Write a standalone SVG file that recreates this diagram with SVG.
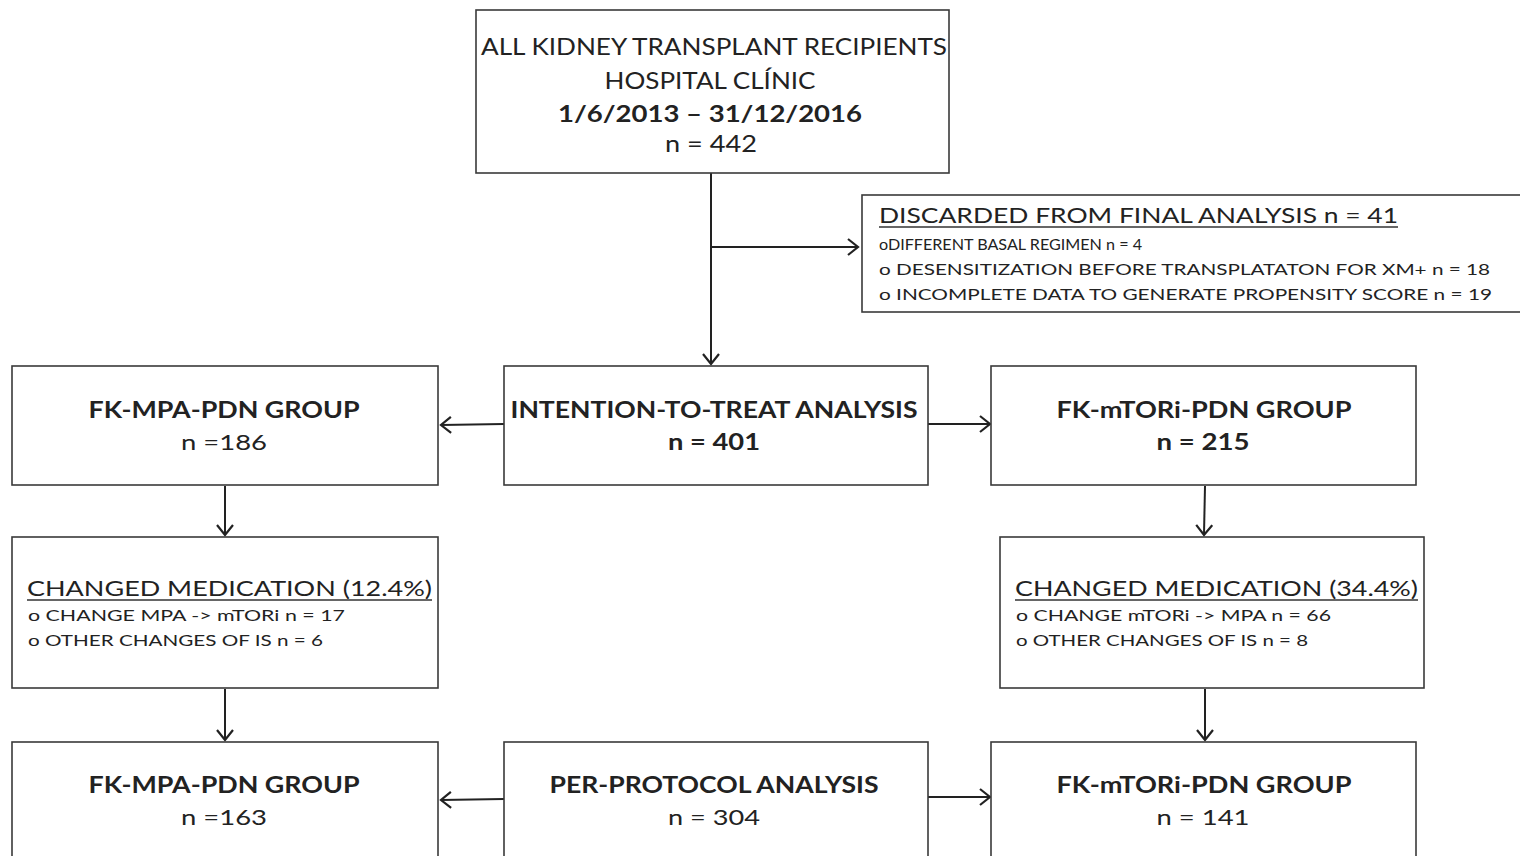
<svg xmlns="http://www.w3.org/2000/svg" width="1520" height="856" viewBox="0 0 1520 856">
<defs>
<style>
.box{fill:#fff;stroke:#3a3a3a;stroke-width:1.6}
.t{font-family:Lato,"Liberation Sans",sans-serif;fill:#222;text-anchor:middle}
.l{font-family:Lato,"Liberation Sans",sans-serif;fill:#222;text-anchor:start}
.b{font-weight:bold}
.c{stroke:#222;stroke-width:2;fill:none}
.u{stroke:#333;stroke-width:1.4}
</style>
<marker id="ah" markerWidth="16" markerHeight="18" refX="12" refY="9" orient="auto" markerUnits="userSpaceOnUse">
<path d="M2,1 L12,9 L2,17" fill="none" stroke="#222" stroke-width="2.2"/>
</marker>
</defs>
<rect width="1520" height="856" fill="#fff"/>

<g id="connectors">
<line class="c" x1="711" y1="173" x2="711" y2="364" marker-end="url(#ah)"/>
<line class="c" x1="711" y1="247" x2="858" y2="247" marker-end="url(#ah)"/>
<line class="c" x1="504" y1="424" x2="441" y2="425" marker-end="url(#ah)"/>
<line class="c" x1="928" y1="424" x2="990" y2="424" marker-end="url(#ah)"/>
<line class="c" x1="225" y1="486" x2="225" y2="535" marker-end="url(#ah)"/>
<line class="c" x1="1205" y1="486" x2="1204" y2="535" marker-end="url(#ah)"/>
<line class="c" x1="225" y1="689" x2="225" y2="740" marker-end="url(#ah)"/>
<line class="c" x1="1205" y1="689" x2="1205" y2="740" marker-end="url(#ah)"/>
<line class="c" x1="504" y1="799" x2="441" y2="800" marker-end="url(#ah)"/>
<line class="c" x1="928" y1="797" x2="990" y2="797" marker-end="url(#ah)"/>
</g>

<g id="all-recipients">
<rect class="box" x="476" y="10" width="473" height="163"/>
<text class="t" x="714" y="55" font-size="23" textLength="466" lengthAdjust="spacingAndGlyphs">ALL KIDNEY TRANSPLANT RECIPIENTS</text>
<text class="t" x="710" y="89" font-size="23" textLength="211" lengthAdjust="spacingAndGlyphs">HOSPITAL CLÍNIC</text>
<text class="t b" x="710" y="122" font-size="23" textLength="304" lengthAdjust="spacingAndGlyphs">1/6/2013 – 31/12/2016</text>
<text class="t" x="711" y="152" font-size="23" textLength="92" lengthAdjust="spacingAndGlyphs">n = 442</text>
</g>

<g id="discarded">
<rect class="box" x="862" y="195" width="670" height="117"/>
<text class="l" x="879" y="223" font-size="21" textLength="519" lengthAdjust="spacingAndGlyphs">DISCARDED  FROM FINAL ANALYSIS n = 41</text>
<line class="u" x1="879" y1="227" x2="1398" y2="227"/>
<text class="l" x="879" y="250" font-size="14.5" textLength="263" lengthAdjust="spacingAndGlyphs">oDIFFERENT BASAL REGIMEN n = 4</text>
<text class="l" x="879" y="275" font-size="14.5" textLength="611" lengthAdjust="spacingAndGlyphs">o DESENSITIZATION BEFORE TRANSPLATATON FOR XM+ n = 18</text>
<text class="l" x="879" y="300" font-size="14.5" textLength="613" lengthAdjust="spacingAndGlyphs">o INCOMPLETE DATA TO  GENERATE PROPENSITY SCORE n = 19</text>
</g>

<g id="itt-mpa">
<rect class="box" x="12" y="366" width="426" height="119"/>
<text class="t b" x="224" y="418" font-size="22" textLength="271" lengthAdjust="spacingAndGlyphs">FK-MPA-PDN GROUP</text>
<text class="t" x="224" y="450" font-size="22" textLength="86" lengthAdjust="spacingAndGlyphs">n =186</text>
</g>

<g id="itt">
<rect class="box" x="504" y="366" width="424" height="119"/>
<text class="t b" x="714" y="418" font-size="22" textLength="407" lengthAdjust="spacingAndGlyphs">INTENTION-TO-TREAT ANALYSIS</text>
<text class="t b" x="714" y="450" font-size="22" textLength="92" lengthAdjust="spacingAndGlyphs">n = 401</text>
</g>

<g id="itt-mtori">
<rect class="box" x="991" y="366" width="425" height="119"/>
<text class="t b" x="1204" y="418" font-size="22" textLength="295" lengthAdjust="spacingAndGlyphs">FK-mTORi-PDN GROUP</text>
<text class="t b" x="1203" y="450" font-size="22" textLength="93" lengthAdjust="spacingAndGlyphs">n = 215</text>
</g>

<g id="changed-mpa">
<rect class="box" x="12" y="537" width="426" height="151"/>
<text class="l" x="27" y="596" font-size="22" textLength="405" lengthAdjust="spacingAndGlyphs">CHANGED MEDICATION (12.4%)</text>
<line class="u" x1="27" y1="600" x2="432" y2="600"/>
<text class="l" x="28" y="621" font-size="15" textLength="317" lengthAdjust="spacingAndGlyphs">o CHANGE MPA -&gt; mTORi n = 17</text>
<text class="l" x="28" y="646" font-size="15" textLength="295" lengthAdjust="spacingAndGlyphs">o OTHER  CHANGES OF IS n = 6</text>
</g>

<g id="changed-mtori">
<rect class="box" x="1000" y="537" width="424" height="151"/>
<text class="l" x="1015" y="596" font-size="22" textLength="403" lengthAdjust="spacingAndGlyphs">CHANGED MEDICATION (34.4%)</text>
<line class="u" x1="1015" y1="600" x2="1418" y2="600"/>
<text class="l" x="1016" y="621" font-size="15" textLength="315" lengthAdjust="spacingAndGlyphs">o CHANGE mTORi -&gt; MPA n = 66</text>
<text class="l" x="1016" y="646" font-size="15" textLength="292" lengthAdjust="spacingAndGlyphs">o OTHER  CHANGES OF IS n = 8</text>
</g>

<g id="pp-mpa">
<rect class="box" x="12" y="742" width="426" height="130"/>
<text class="t b" x="224" y="793" font-size="22" textLength="271" lengthAdjust="spacingAndGlyphs">FK-MPA-PDN GROUP</text>
<text class="t" x="224" y="825" font-size="22" textLength="86" lengthAdjust="spacingAndGlyphs">n =163</text>
</g>

<g id="pp">
<rect class="box" x="504" y="742" width="424" height="130"/>
<text class="t b" x="714" y="793" font-size="22" textLength="329" lengthAdjust="spacingAndGlyphs">PER-PROTOCOL ANALYSIS</text>
<text class="t" x="714" y="825" font-size="22" textLength="92" lengthAdjust="spacingAndGlyphs">n = 304</text>
</g>

<g id="pp-mtori">
<rect class="box" x="991" y="742" width="425" height="130"/>
<text class="t b" x="1204" y="793" font-size="22" textLength="295" lengthAdjust="spacingAndGlyphs">FK-mTORi-PDN GROUP</text>
<text class="t" x="1203" y="825" font-size="22" textLength="93" lengthAdjust="spacingAndGlyphs">n = 141</text>
</g>
</svg>
